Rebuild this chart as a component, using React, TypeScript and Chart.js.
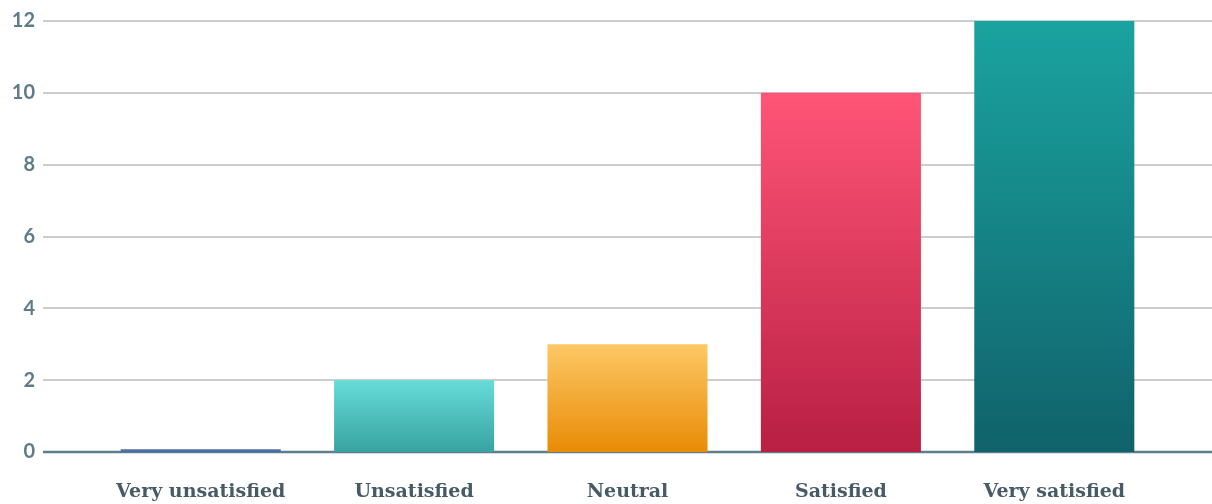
import React, { useEffect, useRef } from "react";
import { Chart, registerables } from "chart.js";

Chart.register(...registerables);

const categories = ["Very unsatisfied", "Unsatisfied", "Neutral", "Satisfied", "Very satisfied"];
const values = [0.08, 2, 3, 10, 12];
const yTicks = [0, 2, 4, 6, 8, 10, 12];
const topColors = ["#5073ad", "#66dcd8", "#fdc865", "#ff5577", "#1aa3a0"];
const bottomColors = ["#4a6aa0", "#38a3a1", "#e88b05", "#b81f43", "#10626a"];

const gridPlugin = {
  id: "fullGrid",
  beforeDatasetsDraw(chart: any) {
    const ctx = chart.ctx;
    const y = chart.scales.y;
    ctx.save();
    yTicks.forEach((t) => {
      const py = Math.round(y.getPixelForValue(t));
      ctx.beginPath();
      ctx.lineWidth = t === 0 ? 2.5 : 2;
      ctx.strokeStyle = t === 0 ? "#5f7d8b" : "#cdcdcd";
      ctx.moveTo(43, py);
      ctx.lineTo(chart.width, py);
      ctx.stroke();
    });
    ctx.restore();
  },
};

export default function App() {
  const ref = useRef<HTMLCanvasElement>(null);
  useEffect(() => {
    const canvas = ref.current!;
    const chart = new Chart(canvas, {
      type: "bar",
      data: {
        labels: categories,
        datasets: [
          {
            data: values,
            backgroundColor: (c: any) => {
              const ch = c.chart;
              const area = ch.chartArea;
              if (!area) return topColors[c.dataIndex];
              const ys = ch.scales.y;
              const v = values[c.dataIndex];
              const g = ch.ctx.createLinearGradient(0, ys.getPixelForValue(v), 0, ys.getPixelForValue(0));
              g.addColorStop(0, topColors[c.dataIndex]);
              g.addColorStop(1, bottomColors[c.dataIndex]);
              return g;
            },
            barPercentage: 0.75,
            categoryPercentage: 1,
            borderWidth: 0,
          },
        ],
      },
      options: {
        animation: false,
        responsive: false,
        maintainAspectRatio: false,
        layout: { padding: { top: 21, right: 51, bottom: 0, left: 0 } },
        plugins: { legend: { display: false }, tooltip: { enabled: false } },
        scales: {
          x: {
            grid: { display: false, drawTicks: false },
            border: { display: false },
            ticks: {
              padding: 29,
              color: "#465b66",
              font: { family: "DejaVu Serif", weight: "bold", size: 19 },
              maxRotation: 0,
              autoSkip: false,
            },
            afterFit: (s: any) => {
              s.height = 52;
              s.paddingLeft = 0;
              s.paddingRight = 0;
            },
          },
          y: {
            min: 0,
            max: 12,
            grid: { display: false, drawTicks: false },
            border: { display: false },
            ticks: {
              stepSize: 2,
              padding: 59,
              color: "#5f7c8a",
              font: { family: "Lato", weight: "bold", size: 20 },
            },
            afterFit: (s: any) => {
              s.width = 94;
              s.paddingTop = 0;
              s.paddingBottom = 0;
            },
          },
        },
      },
      plugins: [gridPlugin],
    });
    return () => chart.destroy();
  }, []);
  return (
    <div style={{ position: "fixed", left: 0, top: 0, width: 1212, height: 504, background: "#ffffff" }}>
      <canvas ref={ref} width={1212} height={504} style={{ display: "block" }} />
    </div>
  );
}
